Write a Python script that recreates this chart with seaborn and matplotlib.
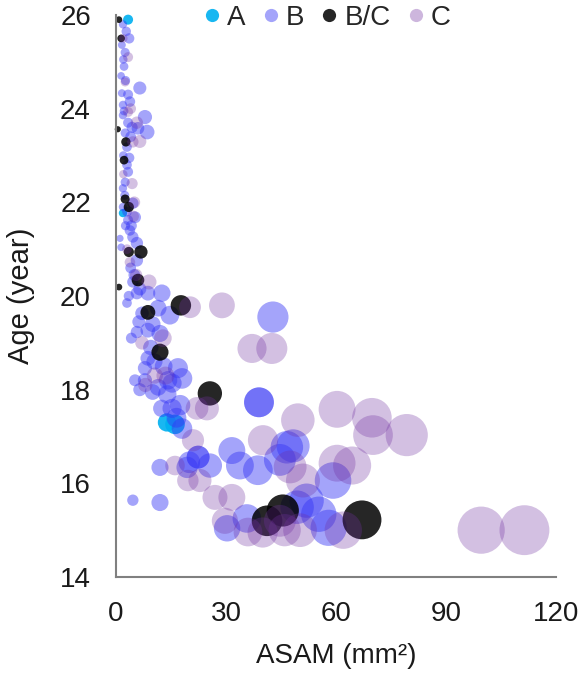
import pandas as pd
import seaborn as sns
import matplotlib.pyplot as plt
from matplotlib.lines import Line2D

# ASAM (mm2) and age (year) per group; bubble size = ASAM
a_asam = [3.3, 1.9, 13.9, 16.1]
a_age = [25.9, 21.77, 17.3, 17.26]

b_asam = [1.9, 1.6, 2.5, 2.2, 1.4, 6.5, 1.6, 3.3, 1.9, 1.9, 7.9, 3.3, 8.5, 6.0, 4.4, 2.5,
          3.0, 3.0, 3.3, 2.5, 1.9, 4.6, 1.9, 5.2, 3.3, 3.8, 4.6, 1.1, 5.7, 1.4, 5.7, 4.6,
          5.7, 8.7, 12.5, 3.0, 7.1, 14.7, 11.5, 5.7, 8.7, 12.0, 8.7, 7.9, 16.9, 18.0, 5.2,
          7.9, 15.3, 11.5, 14.2, 15.3, 12.5, 17.5, 18.0, 12.0, 19.4, 22.4, 22.4, 25.6, 12.0,
          4.6, 42.8, 39.0, 39.0, 31.6, 33.8, 38.7, 46.6, 44.7, 48.3, 59.2, 52.0, 49.4, 35.7,
          30.3, 58.0, 55.3,
          2.8, 3.6, 2.0, 2.6, 3.8, 2.2, 4.0, 2.0, 3.6, 2.4, 3.0, 2.6, 4.2, 4.0, 5.0, 6.5,
          3.5, 6.2, 10.0, 4.2, 9.5, 13.0, 10.5, 6.5, 10.0, 14.0, 16.5, 20.0]
b_age = [25.8, 25.36, 25.2, 24.9, 24.7, 24.44, 24.33, 24.3, 24.08, 23.86, 23.82, 23.7, 23.5,
         23.58, 23.6, 23.48, 23.18, 22.8, 22.65, 22.43, 22.3, 21.98, 21.9, 21.68, 21.62, 21.4,
         21.26, 21.23, 21.13, 21.04, 20.76, 20.3, 20.06, 20.06, 20.06, 19.85, 19.63, 19.59,
         19.74, 19.23, 19.27, 19.2, 18.67, 18.46, 18.46, 18.24, 18.2, 18.2, 18.14, 18.05, 18.2,
         17.6, 17.6, 17.67, 17.17, 16.34, 16.34, 16.56, 16.56, 16.38, 15.59, 15.64, 19.55,
         17.73, 17.73, 16.7, 16.38, 16.28, 16.77, 16.5, 16.8, 16.06, 15.63, 15.49, 15.25,
         15.04, 15.05, 15.34,
         25.65, 25.5, 25.05, 24.6, 24.15, 23.95, 23.4, 23.0, 22.95, 22.15, 21.8, 21.5, 21.5,
         20.6, 20.45, 20.15, 20.0, 19.45, 19.4, 19.1, 18.9, 18.5, 18.6, 18.0, 17.95, 17.9,
         17.4, 16.45]

bc_asam = [0.8, 1.4, 0.5, 2.7, 2.2, 2.5, 3.5, 3.5, 6.8, 6.0, 0.8, 8.7, 17.7, 12.0, 25.6,
           41.2, 45.5, 67.1]
bc_age = [25.9, 25.5, 23.56, 23.29, 22.9, 22.07, 21.9, 20.94, 20.94, 20.34, 20.19, 19.65,
          19.8, 18.8, 17.92, 15.2, 15.42, 15.22]

c_asam = [3.3, 2.5, 3.3, 5.7, 4.6, 4.4, 3.8, 4.7, 7.1, 12.8, 10.6, 20.2, 28.9, 24.8, 22.1,
          21.0, 16.1, 19.6, 22.9, 37.1, 42.5, 49.6, 60.3, 69.8, 70.1, 79.3, 40.1, 47.5, 60.3,
          64.4, 51.0, 27.0, 31.6, 29.7, 36.0, 44.7, 50.2, 62.0, 40.0, 46.0, 99.6, 111.4,
          2.0, 4.0, 6.5, 2.0, 5.0, 3.0, 5.5, 9.0, 8.0, 13.5]
c_age = [25.1, 24.57, 23.93, 23.7, 23.29, 22.4, 20.72, 21.7, 19.0, 19.1, 18.3, 19.76, 19.8,
         17.6, 17.6, 16.92, 16.38, 16.06, 16.06, 18.88, 18.88, 17.35, 17.58, 17.4, 17.03,
         17.03, 16.92, 16.35, 16.43, 16.38, 16.06, 15.7, 15.7, 15.2, 14.96, 15.2, 15.0, 15.0,
         14.95, 15.0, 15.0, 15.0,
         25.5, 24.0, 23.3, 22.6, 22.0, 21.0, 20.45, 20.3, 18.1, 18.3]

groups = ["A", "B", "B/C", "C"]
df = pd.concat([
    pd.DataFrame({"ASAM": a_asam, "Age": a_age, "Type": "A"}),
    pd.DataFrame({"ASAM": b_asam, "Age": b_age, "Type": "B"}),
    pd.DataFrame({"ASAM": bc_asam, "Age": bc_age, "Type": "B/C"}),
    pd.DataFrame({"ASAM": c_asam, "Age": c_age, "Type": "C"}),
], ignore_index=True)

colors = {"A": "#00B0F0", "B": "#3535F5", "B/C": "#000000", "C": "#7030A0"}
alphas = {"A": 0.9, "B": 0.45, "B/C": 0.85, "C": 0.3}

sns.set_style("white")
plt.rcParams["font.family"] = ["Liberation Sans", "DejaVu Sans"]

fig = plt.figure(figsize=(5.84, 6.77), dpi=100)
ax = fig.add_axes([0.1986, 0.1477, 0.7534, 0.8302])

smax = 1296 * 120 / 112
for g in groups:
    sns.scatterplot(data=df[df["Type"] == g], x="ASAM", y="Age", size="ASAM",
                    sizes=(14, smax), size_norm=(0, 120), color=colors[g],
                    alpha=alphas[g], linewidth=0, legend=False, ax=ax, clip_on=False)

ax.set_xlim(0, 120)
ax.set_ylim(14, 26)
ax.set_xticks([0, 30, 60, 90, 120])
ax.set_yticks([14, 16, 18, 20, 22, 24, 26])
for s in ["top", "right"]:
    ax.spines[s].set_visible(False)
for s in ["left", "bottom"]:
    ax.spines[s].set_color("#808080")
    ax.spines[s].set_linewidth(1.5)
ax.tick_params(axis="both", length=0, labelsize=20, colors="#1a1a1a")
ax.tick_params(axis="x", pad=17)
ax.tick_params(axis="y", pad=18)
ax.set_xlabel("ASAM (mm²)", fontsize=20, labelpad=12, color="#1a1a1a")
ax.set_ylabel("Age (year)", fontsize=21, labelpad=18, color="#1a1a1a")

handles = [Line2D([], [], marker="o", linestyle="", markersize=9.5, markeredgewidth=0,
                  markerfacecolor=colors[g], alpha=alphas[g] if g != "C" else 0.35)
           for g in groups]
fig.legend(handles, groups, loc="center", bbox_to_anchor=(0.558, 0.974), ncol=4,
           frameon=False, fontsize=20, handletextpad=0.15, columnspacing=0.5,
           handlelength=0.8)

fig.savefig("out.png", dpi=100)
